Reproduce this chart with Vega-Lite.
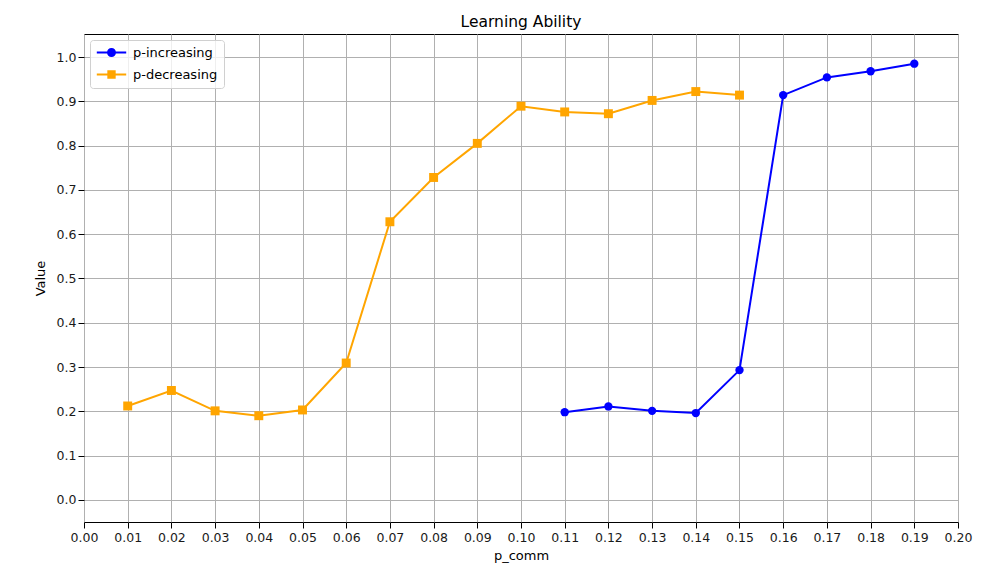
{
  "$schema": "https://vega.github.io/schema/vega-lite/v6.json",
  "width": 874,
  "height": 488,
  "autosize": "none",
  "padding": {"left": 84, "top": 34, "right": 50, "bottom": 42},
  "background": "white",
  "title": {"text": "Learning Ability", "fontSize": 15.5, "fontWeight": "normal", "font": "DejaVu Sans", "color": "black", "offset": 4, "anchor": "middle"},
  "config": {
    "font": "DejaVu Sans",
    "view": {"stroke": "black", "strokeWidth": 1},
    "axis": {"labelFont": "DejaVu Sans", "labelFontSize": 12.5, "labelColor": "#1a1a1a", "titleFont": "DejaVu Sans", "titleFontSize": 13, "titleFontWeight": "normal", "titleColor": "black", "gridColor": "#b0b0b0", "gridWidth": 1, "gridOpacity": 1, "domain": false, "tickColor": "black", "tickSize": 6, "labelPadding": 2}
  },
  "data": {"values": [
    {"series": "p-decreasing", "p": 0.01, "v": 0.212},
    {"series": "p-decreasing", "p": 0.02, "v": 0.247},
    {"series": "p-decreasing", "p": 0.03, "v": 0.201},
    {"series": "p-decreasing", "p": 0.04, "v": 0.190},
    {"series": "p-decreasing", "p": 0.05, "v": 0.203},
    {"series": "p-decreasing", "p": 0.06, "v": 0.309},
    {"series": "p-decreasing", "p": 0.07, "v": 0.628},
    {"series": "p-decreasing", "p": 0.08, "v": 0.728},
    {"series": "p-decreasing", "p": 0.09, "v": 0.805},
    {"series": "p-decreasing", "p": 0.10, "v": 0.889},
    {"series": "p-decreasing", "p": 0.11, "v": 0.876},
    {"series": "p-decreasing", "p": 0.12, "v": 0.872},
    {"series": "p-decreasing", "p": 0.13, "v": 0.902},
    {"series": "p-decreasing", "p": 0.14, "v": 0.922},
    {"series": "p-decreasing", "p": 0.15, "v": 0.914},
    {"series": "p-increasing", "p": 0.11, "v": 0.198},
    {"series": "p-increasing", "p": 0.12, "v": 0.211},
    {"series": "p-increasing", "p": 0.13, "v": 0.201},
    {"series": "p-increasing", "p": 0.14, "v": 0.196},
    {"series": "p-increasing", "p": 0.15, "v": 0.293},
    {"series": "p-increasing", "p": 0.16, "v": 0.914},
    {"series": "p-increasing", "p": 0.17, "v": 0.954},
    {"series": "p-increasing", "p": 0.18, "v": 0.968},
    {"series": "p-increasing", "p": 0.19, "v": 0.985}
  ]},
  "encoding": {
    "x": {"field": "p", "type": "quantitative", "title": "p_comm",
      "scale": {"domain": [0, 0.2], "nice": false, "zero": false},
      "axis": {"values": [0,0.01,0.02,0.03,0.04,0.05,0.06,0.07,0.08,0.09,0.1,0.11,0.12,0.13,0.14,0.15,0.16,0.17,0.18,0.19,0.2], "format": ".2f", "titlePadding": 6, "labelPadding": 3, "labelFlush": false}},
    "y": {"field": "v", "type": "quantitative", "title": "Value",
      "scale": {"domain": [-0.05, 1.052], "nice": false, "zero": false},
      "axis": {"values": [0,0.1,0.2,0.3,0.4,0.5,0.6,0.7,0.8,0.9,1.0], "format": ".1f", "titlePadding": 9, "labelFlush": false}}
  },
  "layer": [
    {"transform": [{"filter": "datum.series === 'p-increasing'"}],
     "mark": {"type": "line", "strokeWidth": 2, "color": "#0000ff"}},
    {"transform": [{"filter": "datum.series === 'p-increasing'"}],
     "mark": {"type": "point", "shape": "circle", "filled": true, "opacity": 1, "color": "#0000ff", "size": 70}},
    {"transform": [{"filter": "datum.series === 'p-decreasing'"}],
     "mark": {"type": "line", "strokeWidth": 2, "color": "#ffa500"}},
    {"transform": [{"filter": "datum.series === 'p-decreasing'"}],
     "mark": {"type": "point", "shape": "square", "filled": true, "opacity": 1, "color": "#ffa500", "size": 80}},
    {"transform": [{"filter": "datum.p > 1"}],
     "mark": {"type": "point", "filled": true, "opacity": 1, "size": 90},
     "encoding": {
       "fill": {"field": "series", "type": "nominal",
         "scale": {"domain": ["p-increasing", "p-decreasing"], "range": ["#0000ff", "#ffa500"]},
         "legend": {"title": null, "orient": "none", "legendX": 6, "legendY": 6, "symbolSize": 90, "symbolStrokeWidth": 0, "symbolOpacity": 1, "labelFont": "DejaVu Sans", "labelFontSize": 13, "labelColor": "black", "fillColor": "rgba(255,255,255,0.8)", "strokeColor": "#d0d0d0", "cornerRadius": 3, "padding": 6, "rowPadding": 8, "symbolOffset": 9, "labelOffset": 15}},
       "shape": {"field": "series", "type": "nominal",
         "scale": {"domain": ["p-increasing", "p-decreasing"],
           "range": ["M-3.1,-0.2H3.1V0.2H-3.1Z M0.95,0A0.95,0.95 0 1,1 -0.95,0A0.95,0.95 0 1,1 0.95,0Z", "M-3.1,-0.2H3.1V0.2H-3.1Z M-0.88,-0.88H0.88V0.88H-0.88Z"]}}
     }}
  ]
}
